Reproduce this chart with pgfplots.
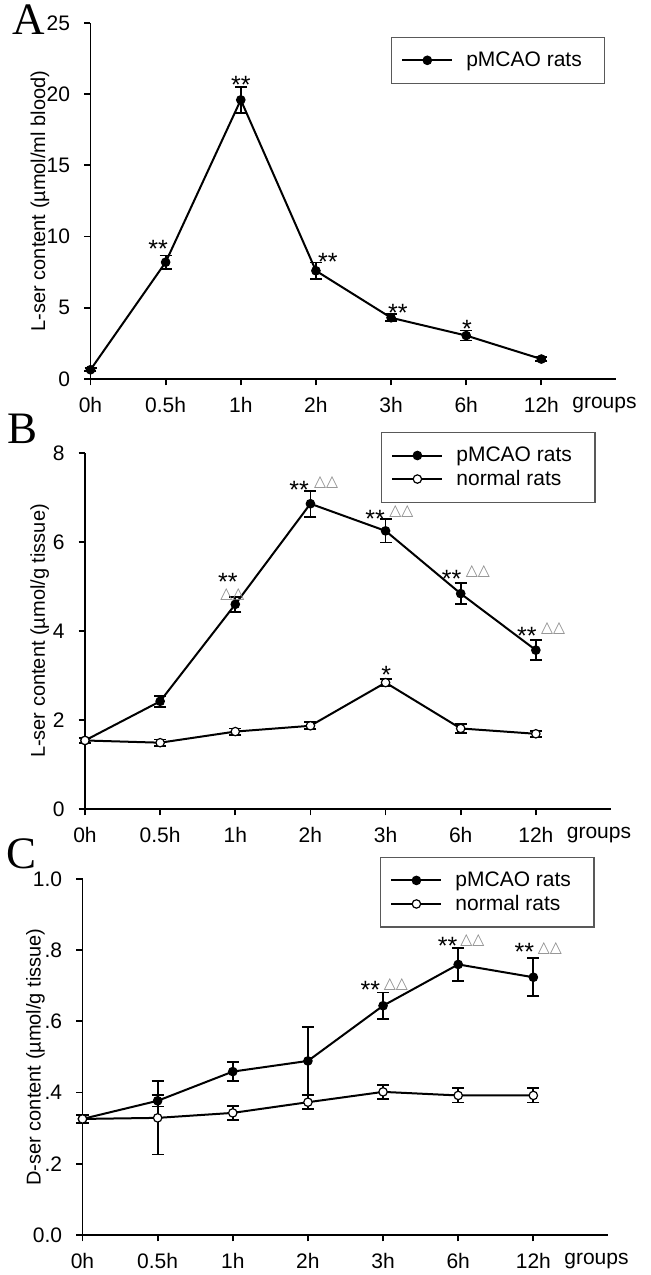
\documentclass[border=0pt]{standalone}
\usepackage{pgfplots}
\pgfplotsset{compat=1.18}
\usepackage{fontspec}
\setmainfont{Liberation Sans}
\newfontfamily\timesfont{Liberation Serif}
\newfontfamily\dejavu{DejaVu Sans}
\definecolor{trigray}{HTML}{8A8A8A}
\pgfplotsset{
  panel/.style={
    scale only axis, width=263pt, height=178pt, anchor=south west,
    axis x line*=bottom, axis y line*=left,
    axis line style={line width=0.9pt},
    tick align=outside, major tick length=3.2pt,
    every tick/.style={line width=0.9pt, black},
    xmin=0, xmax=7, xtick={0,...,6}, xticklabels={0h,0.5h,1h,2h,3h,6h,12h},
    extra x ticks={6.84}, extra x tick labels={groups},
    extra x tick style={tick style={draw=none}},
    ymin=0, clip=false,
    tick label style={font=\fontsize{10.5}{12}\selectfont},
    xticklabel style={yshift=-2.5pt},
    yticklabel style={xshift=-3.5pt},
    /pgf/number format/assume math mode=true,
    label style={font=\fontsize{10}{12}\selectfont},
    every axis y label/.style={at={(axis description cs:0,0.5)}, rotate=90, anchor=center},
    legend style={draw=black!65, line width=0.6pt, font=\fontsize{10.5}{12}\selectfont,
      anchor=north east, inner xsep=5pt, inner ysep=7pt,
      nodes={inner sep=0pt}, row sep=2.8pt,
      /tikz/every odd column/.append style={column sep=6.5pt}},
    legend cell align=left,
    legend image code/.code={\draw[mark repeat=2,mark phase=2,##1] plot coordinates {(0pt,0pt)(12.5pt,0pt)(25pt,0pt)};},
  },
  pm/.style={black, line width=1pt, mark=*, mark size=2.1pt,
    mark options={fill=black, line width=0.6pt, solid},
    error bars/.cd, y dir=both, y explicit, error mark=-,
    error bar style={line width=0.9pt},
    error mark options={rotate=90, line width=0.9pt, mark size=3pt, black}},
  nr/.style={black, line width=1pt, mark=*, mark size=2.1pt,
    mark options={fill=white, line width=0.6pt, solid},
    error bars/.cd, y dir=both, y explicit, error mark=-,
    error bar style={line width=0.9pt},
    error mark options={rotate=90, line width=0.9pt, mark size=3pt, black}},
}
\tikzset{
  ast/.style={anchor=base, inner sep=0pt, yshift=-7pt, font=\fontsize{12.5}{14}\selectfont},
  tri/.style={anchor=base, inner sep=0pt, yshift=-3pt, text=trigray, font=\dejavu\fontsize{7.8}{9}\selectfont},
}
\begin{document}
\begin{tikzpicture}
% ---------------- Panel A ----------------
\begin{axis}[panel, at={(45.25pt,448pt)},
  ymax=25, ytick={0,5,10,15,20,25},
  ylabel={L-ser content (µmol/ml blood)},
  every axis y label/.append style={yshift=25.25pt},
  legend style={at={(axis description cs:0.979,0.961)}}]
\addplot+[pm] coordinates {
  (0,0.65) +- (0,0.1)
  (1,8.2) +- (0,0.47)
  (2,19.6) +- (0,0.9)
  (3,7.6) +- (0,0.58)
  (4,4.3) +- (0,0.25)
  (5,3.05) +- (0,0.35)
  (6,1.4) +- (0,0.15)
};
\addlegendentry{pMCAO rats\hspace*{6.5pt}}
\node[ast] at (axis cs:0.90,9.54) {**};
\node[ast] at (axis cs:2.0,21.0) {**};
\node[ast] at (axis cs:3.16,8.6) {**};
\node[ast] at (axis cs:4.09,5.01) {**};
\node[ast] at (axis cs:5.01,3.9) {*};
\end{axis}
% ---------------- Panel B ----------------
\begin{axis}[panel, at={(42.5pt,233pt)},
  ymax=8, ytick={0,2,4,6,8},
  ylabel={L-ser content (µmol/g tissue)},
  every axis y label/.append style={yshift=22.7pt},
  legend style={at={(axis description cs:0.9706,1.0588)}}]
\addplot+[pm] coordinates {
  (0,1.54) +- (0,0.05)
  (1,2.42) +- (0,0.12)
  (2,4.6) +- (0,0.17)
  (3,6.86) +- (0,0.29)
  (4,6.25) +- (0,0.26)
  (5,4.84) +- (0,0.23)
  (6,3.57) +- (0,0.22)
};
\addlegendentry{pMCAO rats\hspace*{6.5pt}}
\addplot+[nr] coordinates {
  (0,1.54) +- (0,0.05)
  (1,1.49) +- (0,0.07)
  (2,1.74) +- (0,0.07)
  (3,1.87) +- (0,0.08)
  (4,2.84) +- (0,0.08)
  (5,1.81) +- (0,0.1)
  (6,1.69) +- (0,0.07)
};
\addlegendentry{normal rats}
\node[ast] at (axis cs:1.90,5.22) {**};
\node[tri] at (axis cs:1.96,4.87) {△△};
\node[ast] at (axis cs:2.85,7.30) {**};
\node[tri] at (axis cs:3.21,7.38) {△△};
\node[ast] at (axis cs:3.86,6.65) {**};
\node[tri] at (axis cs:4.21,6.74) {△△};
\node[ast] at (axis cs:4.88,5.29) {**};
\node[tri] at (axis cs:5.23,5.38) {△△};
\node[ast] at (axis cs:5.88,4.02) {**};
\node[tri] at (axis cs:6.23,4.09) {△△};
\node[ast] at (axis cs:4.01,3.14) {*};
\end{axis}
% ---------------- Panel C ----------------
\begin{axis}[panel, at={(41.25pt,20pt)},
  ymax=1, ytick={0,0.2,0.4,0.6,0.8,1.0},
  yticklabels={0.0,.2,.4,.6,.8,1.0},
  ylabel={D-ser content (µmol/g tissue)},
  every axis y label/.append style={yshift=23.5pt},
  legend style={at={(axis description cs:0.9735,1.0618)}}]
\addplot+[pm] coordinates {
  (0,0.326) +- (0,0.012)
  (1,0.377) +- (0,0.016)
  (2,0.459) +- (0,0.026)
  (3,0.489) +- (0,0.095)
  (4,0.644) +- (0,0.037)
  (5,0.760) +- (0,0.047)
  (6,0.724) +- (0,0.053)
};
\addlegendentry{pMCAO rats\hspace*{6.5pt}}
\addplot+[nr] coordinates {
  (0,0.326) +- (0,0.012)
  (1,0.329) +- (0,0.103)
  (2,0.343) +- (0,0.02)
  (3,0.373) +- (0,0.02)
  (4,0.402) +- (0,0.02)
  (5,0.392) +- (0,0.02)
  (6,0.392) +- (0,0.02)
};
\addlegendentry{normal rats}
\node[ast] at (axis cs:3.83,0.705) {**};
\node[tri] at (axis cs:4.17,0.708) {△△};
\node[ast] at (axis cs:4.86,0.828) {**};
\node[tri] at (axis cs:5.19,0.832) {△△};
\node[ast] at (axis cs:5.88,0.809) {**};
\node[tri] at (axis cs:6.22,0.809) {△△};
\end{axis}
% panel letters
\node[anchor=base west, inner sep=0pt, font=\timesfont\fontsize{22.5}{24}\selectfont] at (6pt,620pt) {A};
\node[anchor=base west, inner sep=0pt, font=\timesfont\fontsize{22.5}{24}\selectfont] at (3.5pt,415.5pt) {B};
\node[anchor=base west, inner sep=0pt, font=\timesfont\fontsize{22.5}{24}\selectfont] at (3pt,203pt) {C};
\pgfresetboundingbox
\path[use as bounding box] (0pt,0pt) rectangle (325pt,637.5pt);
\end{tikzpicture}
\end{document}
